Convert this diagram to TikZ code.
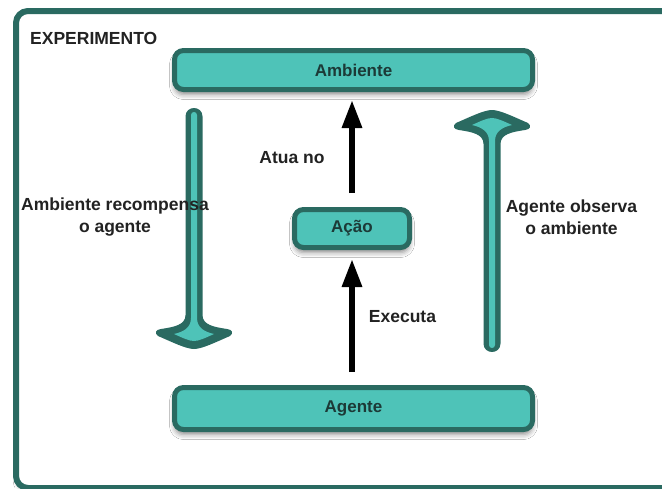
\documentclass[tikz,border=0pt]{standalone}
\usepackage{fontspec}
\setmainfont{Liberation Sans}
\usetikzlibrary{arrows.meta,shadows.blur}
\definecolor{tealfill}{HTML}{4EC3B8}
\definecolor{tealdark}{HTML}{2A6A61}
\definecolor{txt}{HTML}{222222}
\definecolor{boxtxt}{HTML}{1C3A37}
\begin{document}
\begin{tikzpicture}[x=1pt,y=-1pt,
  box/.style={draw=tealdark, fill=tealfill, line width=5pt, rounded corners=9pt,
    font=\fontsize{17}{20}\selectfont\bfseries, text=boxtxt, inner sep=0pt,
    blur shadow={shadow xshift=0pt, shadow yshift=-5pt, shadow blur radius=5pt, shadow opacity=45}},
  lbl/.style={font=\fontsize{17.5}{22}\selectfont\bfseries, text=txt, align=center, inner sep=0pt},
  blk/.style={line width=6pt, draw=black, -{Triangle[width=19pt,length=28pt]}},
  pics/bigarr/.style={code={
    \fill[tealdark] (-8.5,8.5) .. controls (-8.5,-2.8) and (8.5,-2.8) .. (8.5,8.5)
      -- (8.5,#1-34) .. controls (8.5,#1-24) and (20,#1-22) .. (33,#1-20)
      .. controls (38,#1-19.5) and (40,#1-16) .. (36,#1-13)
      .. controls (22,#1-7) and (8,#1) .. (0,#1)
      .. controls (-8,#1) and (-22,#1-7) .. (-36,#1-13)
      .. controls (-40,#1-16) and (-38,#1-19.5) .. (-33,#1-20)
      .. controls (-20,#1-22) and (-8.5,#1-24) .. (-8.5,#1-34) -- cycle;
    \fill[tealfill] (-3,7) .. controls (-3,3) and (3,3) .. (3,7)
      -- (3,#1-31) .. controls (3,#1-21) and (11,#1-17) .. (20,#1-15)
      .. controls (11,#1-11) and (5,#1-8) .. (0,#1-8)
      .. controls (-5,#1-8) and (-11,#1-11) .. (-20,#1-15)
      .. controls (-11,#1-17) and (-3,#1-21) .. (-3,#1-31) -- cycle;
  }}]
\useasboundingbox (0,0) rectangle (662,488);
\clip (0,0) rectangle (662,488);
\fill[white] (0,0) rectangle (662,488);
\draw[line width=6pt, draw=tealdark, fill=white, rounded corners=12pt,
  blur shadow={shadow xshift=1pt, shadow yshift=-4pt, shadow blur radius=4pt, shadow opacity=30}]
  (16,11) rectangle (700,488);

\node[box, minimum width=358pt, minimum height=39pt] (amb) at (353.5,70) {Ambiente};
\node[box, minimum width=115pt, minimum height=38pt] (acao) at (352,228.5) {Ação};
\node[box, minimum width=358pt, minimum height=42pt] (ag) at (353.5,408.5) {Agente};

\draw[blk, shorten <=13pt, shorten >=9pt] (ag.north -| acao.south) -- (acao.south);
\draw[blk, shorten <=14pt, shorten >=8pt] (acao.north) -- (amb.south -| acao.north);

\pic at (194,108) {bigarr=241};
\pic[yscale=-1] at (492,352) {bigarr=242};

\node[lbl, anchor=west] (exp) at (30,38) {EXPERIMENTO};
\node[lbl] (l1) at (115,217) {Ambiente recompensa\\o agente};
\node[lbl] (l2) at (571.5,217) {Agente observa\\o ambiente};
\node[lbl] (l3) at (292,158) {Atua no};
\node[lbl] (l4) at (402.5,317) {Executa};
\end{tikzpicture}
\end{document}
